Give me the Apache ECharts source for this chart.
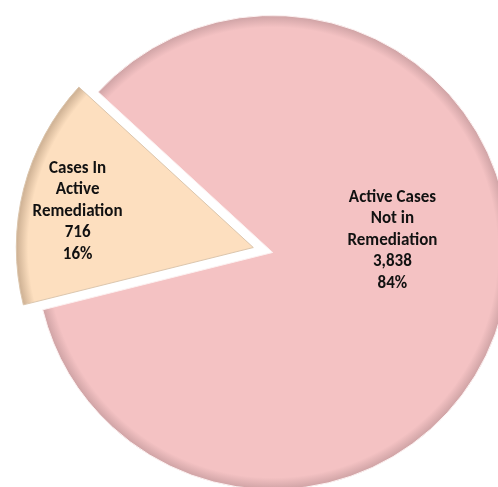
<!DOCTYPE html>
<html>
<head>
<meta charset="utf-8">
<script src="https://cdn.jsdelivr.net/npm/echarts@6/dist/echarts.min.js"></script>
<style>
    html, body { margin: 0; padding: 0; background: #fff; }
    #chart { width: 498px; height: 487px; }
</style>
</head>
<body>
<div id="chart"></div>
<script>
const categories = ['Cases In\nActive\nRemediation', 'Active Cases\nNot in\nRemediation'];
const values = [716, 3838];

const colors = [
    { base: '#fddfbf', edge: '#cdb093' },
    { base: '#f4c2c3', edge: '#cfa3a5' },
];

// layout of the pie in px
const cx = 263, cy = 250, radius = 237;

// labels sit further out than the default "inside" spot
const labelShift = [{ dx: -58, dy: -6 }, { dx: 2, dy: -42 }];

const fill = (c) => ({
    type: 'radial',
    x: cx, y: cy, r: radius,
    global: true,
    colorStops: [
        { offset: 0, color: c.base },
        { offset: 0.95, color: c.base },
        { offset: 1, color: c.edge },
    ],
});

const style = (i) => ({
    color: fill(colors[i]),
    borderColor: i === 0 ? '#dcc6ad' : '#fdf1f1',
    borderWidth: 1,
});

const chart = echarts.init(document.getElementById('chart'), null, { renderer: 'canvas' });

chart.setOption({
    backgroundColor: '#fff',
    animation: false,
    series: [{
        type: 'pie',
        center: [cx, cy],
        radius: radius,
        startAngle: 194,
        clockwise: true,
        selectedMode: 'multiple',
        selectedOffset: 10,
        avoidLabelOverlap: false,
        percentPrecision: 0,
        label: {
            show: true,
            position: 'inside',
            color: '#111',
            fontFamily: 'Carlito, Lato, "Noto Sans", sans-serif',
            fontWeight: 'bold',
            fontSize: 17,
            lineHeight: 21.5,
            align: 'center',
            formatter: (p) => `${p.name}\n${p.value.toLocaleString('en-US')}\n${p.percent}%`,
        },
        labelLine: { show: false },
        labelLayout: (p) => labelShift[p.dataIndex],
        emphasis: { disabled: true },
        data: categories.map((name, i) => ({
            name,
            value: values[i],
            selected: true,
            itemStyle: style(i),
            select: { itemStyle: style(i) },
        })),
    }],
});
</script>
</body>
</html>
